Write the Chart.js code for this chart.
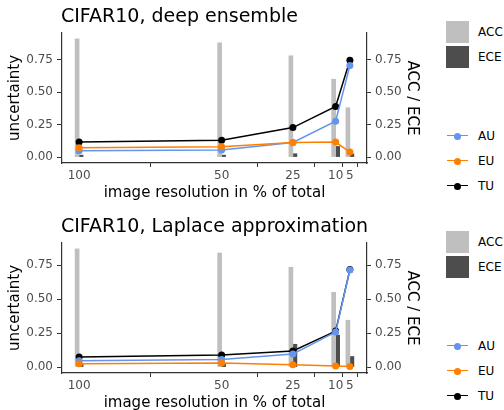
<!DOCTYPE html>
<html>
<head>
<meta charset="utf-8">
<script src="https://cdn.jsdelivr.net/npm/chart.js@4"></script>
<style>
  body { margin: 0; background: #fff; font-family: "DejaVu Sans", sans-serif; }
  #wrap { position: relative; width: 504px; height: 410px; overflow: hidden; }
  .panel { position: absolute; left: 0; width: 504px; height: 200px; }
  .panel canvas { position: absolute; left: 0; top: 0; }
  .title { position: absolute; left: 61px; font-size: 19px; line-height: 19px; color: #000; white-space: nowrap; }
  .lg { position: absolute; font-size: 12px; line-height: 12px; color: #000; white-space: nowrap; }
  .sq { position: absolute; left: 446px; width: 23px; height: 22px; }
  .ln { position: absolute; left: 447px; width: 21px; height: 0; border-top: 1.5px solid; }
  .dot { position: absolute; left: 454px; width: 7px; height: 7px; border-radius: 50%; }
</style>
</head>
<body>
<div id="wrap">
  <div class="panel" id="p1" style="top:0px"><canvas id="c1" width="425" height="200"></canvas></div>
  <div class="panel" id="p2" style="top:210px"><canvas id="c2" width="425" height="200"></canvas></div>
</div>
<script>
// image resolution in % of total
const resolution = [100, 50, 25, 10, 5];
const xTicks = [100, 50, 25, 10, 5];
const yTicks = [0, 0.25, 0.5, 0.75];

// CIFAR10, deep ensemble
const ensembleAcc = [0.91, 0.88, 0.78, 0.60, 0.38];
const ensembleEce = [0.015, 0.015, 0.026, 0.082, 0.025];
const ensembleAu = [0.049, 0.054, 0.113, 0.276, 0.705];
const ensembleEu = [0.072, 0.080, 0.113, 0.116, 0.039];
const ensembleTu = [0.116, 0.130, 0.227, 0.390, 0.745];

// CIFAR10, Laplace approximation
const laplaceAcc = [0.87, 0.84, 0.735, 0.55, 0.345];
const laplaceEce = [0.02, 0.02, 0.168, 0.235, 0.078];
const laplaceAu = [0.047, 0.055, 0.097, 0.258, 0.715];
const laplaceEu = [0.025, 0.030, 0.018, 0.008, 0.005];
const laplaceTu = [0.074, 0.089, 0.119, 0.265, 0.718];

const colAcc = '#bfbfbf';
const colEce = '#4d4d4d';
const colAu = '#6495ed';
const colEu = '#ff7f00';
const colTu = '#000000';

const pts = arr => arr.map((v, i) => ({ x: resolution[i], y: v }));

function lineSet(label, values, color, order) {
    return {
        type: 'line',
        label: label,
        data: pts(values),
        borderColor: color,
        backgroundColor: color,
        borderWidth: 1.5,
        pointRadius: 3.5,
        pointBorderWidth: 0,
        tension: 0,
        yAxisID: 'y',
        order: order
    };
}

function makePanel(panelId, canvasId, titleText, acc, ece, au, eu, tu) {
    const panel = document.getElementById(panelId);

    // title + legend as html text
    let html = '<div class="title" style="top:6px">' + titleText + '</div>';
    html += '<div class="sq" style="top:21px;background:' + colAcc + '"></div>';
    html += '<div class="sq" style="top:46px;background:' + colEce + '"></div>';
    html += '<div class="lg" style="left:478px;top:26px">ACC</div>';
    html += '<div class="lg" style="left:478px;top:51px">ECE</div>';
    [['AU', colAu, 136], ['EU', colEu, 161], ['TU', colTu, 186]].forEach(e => {
        html += '<div class="ln" style="top:' + (e[2] - 0.75) + 'px;border-color:' + e[1] + '"></div>';
        html += '<div class="dot" style="top:' + (e[2] - 3.5) + 'px;background:' + e[1] + '"></div>';
        html += '<div class="lg" style="left:478px;top:' + (e[2] - 6) + 'px">' + e[0] + '</div>';
    });
    panel.insertAdjacentHTML('beforeend', html);

    // ggplot style 5% expansion of the y range
    const hi = Math.max(...acc, ...ece, ...au, ...eu, ...tu);
    const pad = hi * 0.05;
    const yMin = -pad, yMax = hi + pad;

    const tickFont = { family: 'DejaVu Sans', size: 12 };
    const titleFont = { family: 'DejaVu Sans', size: 15 };

    new Chart(document.getElementById(canvasId), {
        data: {
            datasets: [
                {
                    type: 'bar', label: 'ACC', data: pts(acc), backgroundColor: colAcc,
                    barThickness: 4, yAxisID: 'y2', order: 10
                },
                {
                    type: 'bar', label: 'ECE', data: pts(ece), backgroundColor: colEce,
                    barThickness: 4, yAxisID: 'y2', order: 10
                },
                lineSet('TU', tu, colTu, 3),
                lineSet('AU', au, colAu, 2),
                lineSet('EU', eu, colEu, 1)
            ]
        },
        options: {
            responsive: false,
            animation: false,
            devicePixelRatio: 1,
            layout: { padding: { top: 33, left: 0, right: 0, bottom: 0 } },
            plugins: { legend: { display: false }, tooltip: { enabled: false }, title: { display: false } },
            scales: {
                x: {
                    type: 'linear', reverse: true, min: -1, max: 106, offset: false,
                    afterBuildTicks: s => { s.ticks = xTicks.map(v => ({ value: v })); },
                    afterFit: s => { s.height = 37; },
                    ticks: { autoSkip: false, maxRotation: 0, color: '#4d4d4d', font: tickFont, padding: 2,
                        callback: v => String(v) },
                    grid: { drawOnChartArea: false, tickLength: 4, tickColor: '#333', tickWidth: 1 },
                    border: { color: '#333', width: 1.2 },
                    title: { display: true, text: 'image resolution in % of total', color: '#000',
                        font: titleFont, padding: { top: 0, bottom: -2 } }
                },
                y: {
                    position: 'left', min: yMin, max: yMax,
                    afterBuildTicks: s => { s.ticks = yTicks.map(v => ({ value: v })); },
                    afterFit: s => { s.width = 62; },
                    ticks: { color: '#4d4d4d', font: tickFont, padding: 4, callback: v => v.toFixed(2) },
                    grid: { drawOnChartArea: false, tickLength: 5, tickColor: '#333' },
                    border: { color: '#333', width: 1.2 },
                    title: { display: true, text: 'uncertainty', color: '#000', font: titleFont,
                        padding: { top: 6, bottom: 0 } }
                },
                y2: {
                    position: 'right', min: yMin, max: yMax,
                    afterBuildTicks: s => { s.ticks = yTicks.map(v => ({ value: v })); },
                    afterFit: s => { s.width = 58; },
                    ticks: { color: '#4d4d4d', font: tickFont, padding: 4, callback: v => v.toFixed(2) },
                    grid: { drawOnChartArea: false, tickLength: 4, tickColor: '#333' },
                    border: { color: '#333', width: 1.2 },
                    title: { display: true, text: 'ACC / ECE', color: '#000', font: titleFont,
                        padding: { top: 4, bottom: 0 } }
                }
            }
        }
    });
}

makePanel('p1', 'c1', 'CIFAR10, deep ensemble', ensembleAcc, ensembleEce, ensembleAu, ensembleEu, ensembleTu);
makePanel('p2', 'c2', 'CIFAR10, Laplace approximation', laplaceAcc, laplaceEce, laplaceAu, laplaceEu, laplaceTu);
</script>
</body>
</html>
